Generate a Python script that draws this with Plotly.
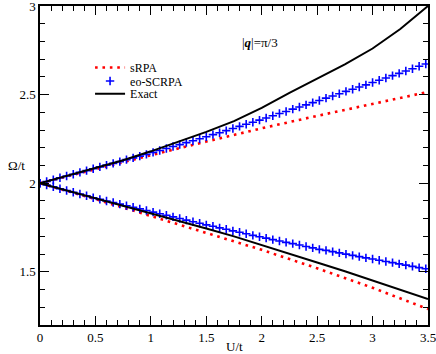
import plotly.graph_objects as go

# U/t grid of the eo-SCRPA symbols
u_scrpa = [round(0.06 * k, 2) for k in range(59)]
scrpa_upper = [2.000, 2.010, 2.020, 2.031, 2.041, 2.051, 2.061, 2.071, 2.082, 2.092,
               2.102, 2.112, 2.122, 2.133, 2.143, 2.153, 2.163, 2.174, 2.185, 2.196,
               2.207, 2.218, 2.229, 2.240, 2.251, 2.262, 2.274, 2.285, 2.297, 2.309,
               2.321, 2.333, 2.344, 2.356, 2.368, 2.381, 2.393, 2.405, 2.418, 2.430,
               2.442, 2.455, 2.467, 2.480, 2.492, 2.505, 2.518, 2.530, 2.543, 2.555,
               2.568, 2.581, 2.594, 2.607, 2.620, 2.633, 2.646, 2.660, 2.673]
scrpa_lower = [2.000, 1.990, 1.980, 1.969, 1.959, 1.949, 1.939, 1.929, 1.918, 1.909,
               1.900, 1.891, 1.882, 1.873, 1.864, 1.855, 1.846, 1.837, 1.828, 1.819,
               1.810, 1.801, 1.792, 1.783, 1.774, 1.765, 1.757, 1.748, 1.740, 1.731,
               1.723, 1.715, 1.706, 1.698, 1.690, 1.682, 1.674, 1.666, 1.659, 1.651,
               1.643, 1.635, 1.627, 1.621, 1.614, 1.607, 1.600, 1.593, 1.586, 1.579,
               1.572, 1.565, 1.558, 1.552, 1.545, 1.538, 1.531, 1.524, 1.517]

u_srpa = [0, 0.5, 1.0, 1.5, 2.0, 2.5, 3.0, 3.5]
srpa_upper = [2.0, 2.08, 2.158, 2.235, 2.31, 2.38, 2.448, 2.515]
srpa_lower = [2.0, 1.91, 1.815, 1.72, 1.624, 1.52, 1.41, 1.29]

u_exact = [0, 0.25, 0.5, 0.75, 1.0, 1.25, 1.5, 1.75, 2.0, 2.25, 2.5, 2.75, 3.0, 3.25, 3.5]
exact_upper = [2.0, 2.043, 2.085, 2.13, 2.18, 2.235, 2.29, 2.35, 2.425, 2.51, 2.59,
               2.67, 2.76, 2.87, 3.0]
exact_lower = [2.0, 1.958, 1.915, 1.873, 1.83, 1.788, 1.745, 1.70, 1.652, 1.603,
               1.553, 1.503, 1.452, 1.40, 1.347]

FONT = "Liberation Serif, Times New Roman, serif"
RED = "#ff0000"
BLUE = "#0000ff"

fig = go.Figure()

srpa_line = dict(color=RED, width=2.6, dash="2.6px,4.8px")
fig.add_trace(go.Scatter(x=u_srpa, y=srpa_upper, mode="lines", line=srpa_line,
                         name="sRPA", legend="legend"))
fig.add_trace(go.Scatter(x=u_srpa, y=srpa_lower, mode="lines", line=srpa_line,
                         showlegend=False))

plus = dict(symbol="cross-thin", size=6, color=BLUE, line=dict(width=1.6, color=BLUE))
fig.add_trace(go.Scatter(x=u_scrpa, y=scrpa_upper, mode="markers", marker=plus,
                         name="eo-SCRPA", legend="legend2"))
fig.add_trace(go.Scatter(x=u_scrpa, y=scrpa_lower, mode="markers", marker=plus,
                         showlegend=False))

fig.add_trace(go.Scatter(x=u_exact, y=exact_upper, mode="lines",
                         line=dict(color="black", width=2), name="Exact", legend="legend3"))
fig.add_trace(go.Scatter(x=u_exact, y=exact_lower, mode="lines",
                         line=dict(color="black", width=2), showlegend=False))

axis_common = dict(
    showgrid=False, zeroline=False, showline=True, linecolor="black", linewidth=1.5,
    mirror="ticks", ticks="inside", ticklen=9, tickwidth=1, tickcolor="black",
    tickfont=dict(family=FONT, size=13, color="black"), automargin=False,
    ticklabeloverflow="allow",
    minor=dict(ticks="inside", ticklen=5, tickwidth=1, tickcolor="black", dtick=0.1),
)
fig.update_xaxes(range=[0, 3.5], dtick=0.5, tick0=0, **axis_common)
fig.update_yaxes(range=[1.2, 3.0], dtick=0.5, tick0=0, **axis_common)

leg = dict(x=0.129, xanchor="left", yanchor="middle", bgcolor="rgba(0,0,0,0)",
           font=dict(family=FONT, size=12, color="black"), itemwidth=30)
fig.update_layout(
    width=436, height=354,
    margin=dict(l=40, r=8, t=6, b=29),
    paper_bgcolor="white", plot_bgcolor="white",
    legend=dict(y=0.807, **leg),
    legend2=dict(y=0.765, **leg),
    legend3=dict(y=0.725, **leg),
    annotations=[
        dict(text="|<b><i>q</i></b>|=π/3", x=0.567, y=0.915, xref="paper", yref="paper",
             showarrow=False, font=dict(family=FONT, size=13, color="black")),
        dict(text="Ω/t", x=-0.062, xshift=-10, y=0.5, xref="paper", yref="paper",
             showarrow=False, font=dict(family=FONT, size=13, color="black")),
        dict(text="U/t", x=0.5, y=-0.068, xref="paper", yref="paper", yanchor="middle",
             showarrow=False, font=dict(family=FONT, size=13, color="black")),
    ],
)

fig.write_html("out.html", config={"displayModeBar": False},
               post_script="document.body.style.margin='0';document.body.style.padding='0';")
